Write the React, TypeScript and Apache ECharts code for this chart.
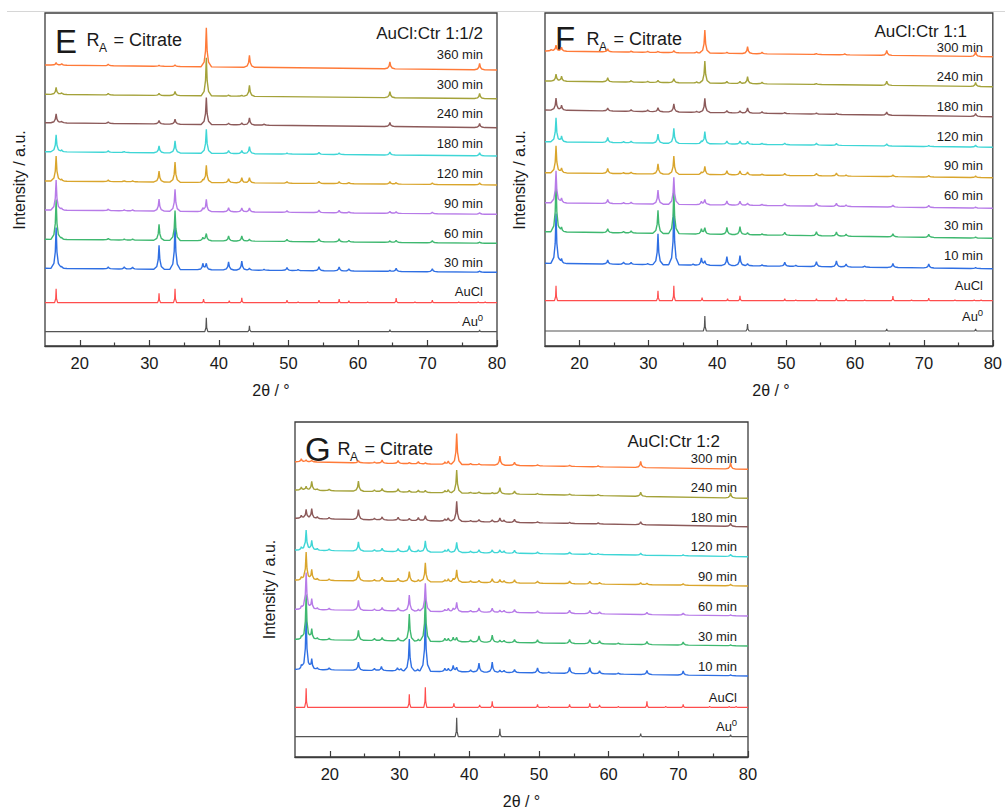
import { useEffect, useRef } from "react";
import * as echarts from "echarts";

// ---------- axis ----------
const X_MIN = 15;
const X_MAX = 80;
const X_TICKS = [20, 30, 40, 50, 60, 70, 80];
const X_MINOR_TICKS = [25, 35, 45, 55, 65, 75];

// ---------- panel E : AuCl:Ctr 1:1/2 ----------
const E_LABELS = ["360 min", "300 min", "240 min", "180 min", "120 min", "90 min", "60 min", "30 min", "AuCl", "Au0"];
const E_BASE_LEFT = [281, 251.7, 223.3, 194.3, 165, 136, 106.7, 77.7, 43.3, 14.3];
const E_BASE_RIGHT = [276, 247.3, 218.3, 190, 161, 131.7, 102.7, 73.7, 43.3, 14.3];
const E_360 = [[16.6, 2.5], [17.4, 1.5], [24.1, 1.5], [31.4, 1], [33.7, 1.5], [38.2, 39], [44.4, 12], [64.6, 7], [77.5, 6.5]];
const E_300 = [[16.6, 7], [17.4, 2], [24.1, 1.5], [31.4, 2], [33.7, 4], [38.2, 38], [41.4, 1], [43.3, 1], [44.4, 11], [64.6, 6], [77.5, 5]];
const E_240 = [[16.6, 9], [17.4, 2], [24.1, 1.5], [31.4, 3.5], [33.7, 5], [38.2, 27], [41.4, 1.5], [43.3, 2], [44.4, 7], [46.5, 1], [64.6, 4], [77.5, 4]];
const E_180 = [[16.6, 17], [17.4, 2], [24.1, 1.5], [26.4, 1], [31.4, 7], [33.7, 12], [38.2, 24], [41.4, 3], [43.3, 3], [44.4, 7], [49.8, 1], [54.4, 2], [57.3, 1.5], [64.6, 3], [77.5, 3]];
const E_120 = [[16.6, 25], [17.4, 2], [24.1, 1.5], [26.4, 1], [27.6, 1], [31.4, 11], [33.7, 20], [37.7, 2], [38.2, 17], [41.4, 4], [43.3, 5], [44.4, 5], [49.8, 1.5], [54.4, 2], [57.3, 2], [58.7, 1], [64.6, 2.5], [65.5, 1.5], [70.7, 1.5], [77.5, 2]];
const E_90 = [[16.6, 30], [17.4, 2], [24.1, 1.5], [26.4, 1], [27.6, 1], [31.4, 12], [33.7, 22], [37.7, 3], [38.2, 12], [41.4, 4], [43.3, 4], [44.4, 4], [49.8, 1.5], [54.4, 2.5], [57.3, 2.5], [58.7, 1], [64.6, 2], [65.5, 1.5], [70.7, 1.5], [77.5, 1.5]];
const E_60 = [[16.6, 40], [17.4, 2], [24.1, 1.5], [26.4, 1], [27.6, 1], [31.4, 16], [33.7, 30], [37.7, 3], [38.2, 7], [41.4, 5], [43.3, 5], [44.4, 2], [49.8, 2], [54.4, 3], [57.3, 3], [58.7, 1.5], [64.6, 1.5], [65.5, 2], [70.7, 2], [77.5, 1]];
const E_30 = [[16.6, 41], [17.4, 2], [24.1, 2], [26.4, 2], [27.6, 2], [31.4, 24], [33.7, 45], [37.7, 6], [38.2, 6], [41.4, 8], [43.3, 9], [44.4, 2], [46.5, 1], [49.8, 3], [51.4, 1], [54.4, 4], [57.3, 4], [58.7, 2], [64.6, 1], [65.5, 3], [70.7, 3], [77.5, 1]];
const E_AUCL = [[16.6, 14], [31.4, 9.5], [33.7, 14], [37.8, 3.5], [41.5, 2], [43.3, 5], [49.8, 2.5], [51.4, 1], [54.4, 2.5], [57.3, 3.5], [58.7, 2], [61.4, 1], [65.5, 4.5], [68.2, 1], [70.7, 2.5], [74.5, 1], [77.3, 1], [78.3, 1]];
const E_AU0 = [[38.2, 14], [44.4, 6], [64.6, 2], [77.5, 1.7]];

// ---------- panel F : AuCl:Ctr 1:1 ----------
const F_LABELS = ["300 min", "240 min", "180 min", "120 min", "90 min", "60 min", "30 min", "10 min", "AuCl", "Au0"];
const F_BASE_LEFT = [295, 265, 236, 204.3, 173.3, 143.3, 114.3, 82.7, 45.3, 15];
const F_BASE_RIGHT = [289.3, 259.3, 229.3, 198.7, 168.3, 137.7, 107.7, 77.3, 45.3, 15];
const F_300 = [[15.9, 2], [16.6, 6], [17.4, 4], [24.1, 3], [27.5, 1], [29.9, 1], [31.4, 1], [33.7, 2], [37.0, 1], [38.2, 23], [41.4, 1], [44.4, 7], [46.5, 1.5], [54.4, 1], [58.5, 1], [64.6, 5], [77.5, 5]];
const F_240 = [[16.6, 7], [17.4, 5], [24.1, 4], [27.5, 1.5], [29.9, 1], [31.4, 2], [33.7, 4], [37.0, 1], [38.2, 22], [41.4, 2], [43.3, 2], [44.4, 7], [46.5, 1.5], [54.4, 1], [64.6, 4], [77.5, 4]];
const F_180 = [[16.6, 12], [17.4, 5], [24.1, 3], [27.5, 1.5], [29.9, 1.5], [31.4, 4], [33.7, 8], [37.0, 1], [38.2, 14], [41.4, 2], [43.3, 2], [44.4, 5], [46.5, 1.5], [49.8, 1], [54.4, 1], [57.3, 1], [64.6, 3], [77.5, 3]];
const F_120 = [[16.6, 24], [17.4, 6], [24.1, 5], [26.4, 1], [27.5, 1.5], [31.4, 9], [33.7, 15], [37.7, 2], [38.2, 12], [41.4, 3], [43.3, 3], [44.4, 3], [46.5, 1], [49.8, 1.5], [54.4, 2], [57.3, 2], [64.6, 2], [70.7, 1], [77.5, 2]];
const F_90 = [[16.6, 27], [17.4, 5], [24.1, 5], [26.4, 1], [27.5, 1.5], [31.4, 10], [33.7, 18], [37.7, 2], [38.2, 8], [41.4, 4], [43.3, 4], [44.4, 3], [46.5, 1], [49.8, 2], [54.4, 2.5], [57.3, 3], [58.7, 1], [65.5, 1.5], [70.7, 1.5], [77.5, 1.5]];
const F_60 = [[16.6, 32], [17.4, 5], [24.1, 4], [26.4, 1], [27.5, 1.5], [31.4, 14], [33.7, 27], [37.7, 3], [38.2, 5], [41.4, 4], [43.3, 4], [44.4, 2], [46.5, 1], [49.8, 2], [54.4, 3], [57.3, 3], [58.7, 1.5], [65.5, 2], [70.7, 2], [77.5, 1]];
const F_30 = [[16.6, 50], [17.4, 5], [24.1, 4], [26.4, 1.5], [27.5, 2], [31.4, 23], [33.7, 43], [37.7, 5], [38.2, 6], [41.4, 7], [43.3, 8], [44.4, 2], [46.5, 1], [49.8, 3], [54.4, 4], [57.3, 4], [58.7, 2], [65.5, 3], [70.7, 3], [77.5, 1]];
const F_10 = [[16.6, 50], [17.4, 5], [24.1, 4], [26.4, 2], [27.5, 2], [29.9, 1], [31.4, 31], [33.7, 58], [36.5, 1], [37.7, 7], [38.2, 4], [41.4, 9], [43.3, 10], [44.4, 2], [46.5, 1], [49.8, 4], [51.4, 1], [54.4, 5], [57.3, 6], [58.7, 3], [61.4, 1], [65.5, 4], [70.7, 4], [77.5, 1]];
const F_AUCL = [[16.6, 15], [31.4, 10], [33.7, 15], [37.8, 3], [41.5, 2], [43.3, 5], [49.8, 2], [51.4, 1], [54.4, 2], [57.3, 3], [58.7, 2], [61.4, 1], [65.5, 4.5], [68.2, 1], [70.7, 2.5], [74.5, 1], [77.3, 1], [78.3, 1]];
const F_AU0 = [[38.2, 15], [44.4, 7], [64.6, 2], [77.5, 2]];

// ---------- panel G : AuCl:Ctr 1:2 ----------
const G_LABELS = ["300 min", "240 min", "180 min", "120 min", "90 min", "60 min", "30 min", "10 min", "AuCl", "Au0"];
const G_BASE_LEFT = [295.3, 267, 238.7, 207, 177, 147.7, 117.7, 87.7, 49.7, 20.3];
const G_BASE_RIGHT = [287.7, 258.7, 230.3, 200.3, 171, 141, 111, 81, 49.7, 20.3];
const G_300 = [[15.9, 3], [16.6, 2], [17.4, 2], [24.1, 2], [26.4, 1], [27.5, 3], [29.8, 3], [31.4, 1], [32.7, 2], [33.7, 1], [36.5, 2], [37.0, 3], [38.2, 31], [40.2, 1], [41.4, 1], [44.4, 9], [46.5, 3], [49.8, 1], [54.4, 1], [58.5, 1], [64.6, 6], [77.5, 6]];
const G_240 = [[15.9, 3], [16.6, 4], [17.4, 9], [18.2, 2], [19.9, 1.5], [24.1, 10], [26.4, 1.5], [27.5, 3], [29.8, 3], [31.4, 1.5], [32.7, 2], [33.7, 2], [36.5, 2], [37.0, 3], [38.2, 23], [40.2, 1], [41.4, 1.5], [43.3, 1], [44.4, 6], [46.5, 3], [49.8, 1], [54.4, 1], [58.5, 1], [64.6, 4], [77.5, 5]];
const G_180 = [[15.9, 3], [16.6, 9], [17.4, 10], [18.2, 2], [19.9, 1.5], [24.1, 10], [26.4, 1.5], [27.5, 3], [29.8, 3], [31.4, 2], [32.7, 3], [33.7, 5], [36.5, 2], [37.0, 3], [38.2, 20], [40.2, 1], [41.4, 2], [43.3, 2], [44.4, 4], [45.0, 2], [46.5, 3], [49.8, 1], [54.4, 1], [58.5, 1], [64.6, 3], [77.5, 3]];
const G_120 = [[15.9, 3], [16.6, 20], [17.4, 10], [18.2, 2], [19.9, 1.5], [24.1, 9], [26.4, 1.5], [27.5, 3], [29.8, 3], [31.4, 6], [32.7, 2], [33.7, 11], [36.5, 2], [37.0, 3], [38.2, 10], [40.2, 1.5], [41.4, 3], [43.3, 3], [44.4, 3], [45.0, 2], [46.5, 3], [49.8, 1.5], [54.4, 2], [57.3, 1.5], [58.5, 1], [64.6, 2], [70.7, 1], [77.5, 2]];
const G_90 = [[15.9, 3], [16.6, 28], [17.4, 11], [18.2, 2], [19.9, 1.5], [24.1, 10], [26.4, 1.5], [27.5, 4], [29.8, 3], [31.4, 10], [32.7, 2], [33.7, 19], [36.5, 2], [37.0, 3], [37.7, 3], [38.2, 12], [40.2, 1.5], [41.4, 2], [43.3, 4], [44.4, 3], [45.0, 2], [46.5, 3], [49.8, 2], [54.4, 2.5], [57.3, 2.5], [58.7, 1.5], [64.6, 2], [65.5, 1.5], [70.7, 1.5], [77.5, 1.5]];
const G_60 = [[15.9, 3], [16.6, 37], [17.4, 11], [18.2, 2], [19.9, 1.5], [24.1, 10], [26.4, 1.5], [27.5, 3], [29.8, 3], [31.4, 16], [32.7, 2], [33.7, 28], [36.5, 2], [37.0, 3], [37.7, 3], [38.2, 9], [40.2, 1.5], [41.4, 4], [43.3, 4], [44.4, 2], [45.0, 2], [46.5, 3], [49.8, 2], [54.4, 3], [57.3, 3], [58.7, 2], [65.5, 2], [70.7, 2], [77.5, 1]];
const G_30 = [[15.9, 3], [16.6, 45], [17.4, 11], [18.2, 2], [19.9, 1.5], [24.1, 10], [26.4, 2], [27.5, 3], [29.8, 3], [31.4, 27], [32.7, 2], [33.7, 45], [36.5, 3], [37.0, 3], [37.7, 4], [38.2, 4], [40.2, 2], [41.4, 6], [43.3, 7], [44.4, 2], [45.0, 2], [46.5, 3], [49.8, 3], [54.4, 4], [57.3, 4], [58.7, 3], [61.4, 1], [65.5, 3], [70.7, 3], [77.5, 1]];
const G_10 = [[15.9, 4], [16.6, 52], [17.4, 11], [18.2, 2], [19.9, 2], [24.1, 8], [26.4, 2], [27.4, 4], [29.7, 3], [30.2, 2], [31.4, 32], [32.6, 2], [33.7, 55], [36.5, 3], [37.0, 3], [37.7, 6], [38.2, 4], [40.2, 2], [41.4, 9], [43.3, 10], [44.4, 2], [45.0, 2], [46.5, 3], [49.8, 5], [51.4, 1], [54.4, 6], [57.3, 6], [58.7, 3], [61.4, 1], [65.5, 4], [70.7, 4], [77.5, 1]];
const G_AUCL = [[16.6, 19], [31.4, 13], [33.7, 20], [37.8, 4], [41.5, 2.5], [43.3, 6], [49.8, 3], [51.4, 1], [54.4, 3], [57.3, 4], [58.7, 2.5], [61.4, 1], [65.5, 6], [68.2, 1], [70.7, 3], [74.5, 1], [77.3, 1], [78.3, 1]];
const G_AU0 = [[38.2, 19], [44.4, 8], [64.6, 3], [77.5, 2]];

// ---------- styles ----------
const TRACE_COLORS = ["#ff7a38", "#a4a23a", "#8c5a5a", "#3fd6d6", "#d9a52c", "#b77be8", "#3fb870", "#2f6fe3", "#ff4d4d", "#555555"];
const SAMPLE_SHAPE = [[-0.75, 0], [-0.32, 0.12], [-0.12, 0.4], [0, 1], [0.12, 0.4], [0.32, 0.12], [0.75, 0]];
const REF_SHAPE = [[-0.22, 0], [-0.06, 0.28], [0, 1], [0.06, 0.28], [0.22, 0]];
const FONT = '"Liberation Sans", Arial, sans-serif';
const TEXT = "#1a1a1a";
const FRAME = "#3c3c3c";

const PANELS = [
  {
    letter: "E", title: "AuCl:Ctr 1:1/2", labels: E_LABELS, left: E_BASE_LEFT, right: E_BASE_RIGHT,
    peaks: [E_360, E_300, E_240, E_180, E_120, E_90, E_60, E_30, E_AUCL, E_AU0],
    grid: { left: 45, top: 13, width: 452, height: 333 },
    labelX: 483, labelY: [54, 84, 113, 143, 173, 203, 233, 262, 291.7, 321.7],
    letterPos: [55, 41], raPos: [86.5, 39.5], titlePos: [483, 33],
    yTitle: [19, 180], xTitle: [271, 390],
  },
  {
    letter: "F", title: "AuCl:Ctr 1:1", labels: F_LABELS, left: F_BASE_LEFT, right: F_BASE_RIGHT,
    peaks: [F_300, F_240, F_180, F_120, F_90, F_60, F_30, F_10, F_AUCL, F_AU0],
    grid: { left: 545, top: 13, width: 452, height: 333 },
    labelX: 983, labelY: [47, 76, 106.7, 136, 165.3, 195, 225, 255, 285, 316],
    letterPos: [555, 38.5], raPos: [586.5, 38.5], titlePos: [967, 31],
    yTitle: [519, 180], xTitle: [771, 390],
  },
  {
    letter: "G", title: "AuCl:Ctr 1:2", labels: G_LABELS, left: G_BASE_LEFT, right: G_BASE_RIGHT,
    peaks: [G_300, G_240, G_180, G_120, G_90, G_60, G_30, G_10, G_AUCL, G_AU0],
    grid: { left: 295, top: 422, width: 453, height: 335 },
    labelX: 737, labelY: [458.5, 487.7, 517.3, 546.7, 576.7, 606.7, 636.7, 666.7, 697.3, 726.7],
    letterPos: [305, 449], raPos: [337.5, 449], titlePos: [720, 441.5],
    yTitle: [269, 589.5], xTitle: [521.5, 801.7],
  },
];

function shapeAt(d: number, shape: number[][]): number {
  const n = shape.length;
  if (d <= shape[0][0] || d >= shape[n - 1][0]) return 0;
  for (let i = 0; i < n - 1; i++) {
    const [x0, y0] = shape[i];
    const [x1, y1] = shape[i + 1];
    if (d >= x0 && d <= x1) return y0 + ((y1 - y0) * (d - x0)) / (x1 - x0);
  }
  return 0;
}

function buildTrace(peaks: number[][], left: number, right: number, shape: number[][]): number[][] {
  const xs = new Set<number>([X_MIN, X_MAX]);
  peaks.forEach(([c]) =>
    shape.forEach(([dx]) => {
      const x = +(c + dx).toFixed(3);
      if (x >= X_MIN && x <= X_MAX) xs.add(x);
    })
  );
  const sorted = Array.from(xs).sort((a, b) => a - b);
  return sorted.map((x) => {
    let y = left + ((right - left) * (x - X_MIN)) / (X_MAX - X_MIN);
    for (const [c, h] of peaks) y += h * shapeAt(x - c, shape);
    return [x, +y.toFixed(2)];
  });
}

function txt(x: number, y: number, text: string, size: number, align: string, extra: any = {}) {
  return {
    type: "text",
    x,
    y,
    silent: true,
    ...extra,
    style: {
      text,
      fontSize: size,
      fontFamily: FONT,
      fill: TEXT,
      textAlign: align,
      align,
      textVerticalAlign: "middle",
      verticalAlign: "middle",
    },
  };
}

export default function App() {
  const ref = useRef<HTMLDivElement>(null);
  useEffect(() => {
    if (!ref.current) return;
    const chart = echarts.init(ref.current, undefined, { renderer: "svg" });
    const grids: any[] = [];
    const xAxes: any[] = [];
    const yAxes: any[] = [];
    const series: any[] = [];
    const graphics: any[] = [
      { type: "line", silent: true, shape: { x1: 7, y1: 11.5, x2: 1005, y2: 11.5 }, style: { stroke: "#d6d6d6", lineWidth: 1 } },
    ];

    PANELS.forEach((p, i) => {
      grids.push({ ...p.grid, show: true, borderColor: FRAME, borderWidth: 1.3, backgroundColor: "transparent" });
      xAxes.push({
        gridIndex: i, type: "value", min: X_MIN, max: X_MAX, interval: 5,
        axisLine: { show: true, onZero: false, lineStyle: { color: FRAME, width: 1.3 } },
        axisTick: { show: true, inside: true, length: 6, customValues: X_TICKS, lineStyle: { color: FRAME, width: 1.2 } },
        axisLabel: { show: true, customValues: X_TICKS, fontSize: 16.5, fontFamily: FONT, color: TEXT, margin: 8 },
        splitLine: { show: false },
      });
      xAxes.push({
        gridIndex: i, type: "value", min: X_MIN, max: X_MAX, interval: 5, position: "bottom",
        axisLine: { show: false },
        axisTick: { show: true, inside: true, length: 3.5, customValues: X_MINOR_TICKS, lineStyle: { color: FRAME, width: 1.2 } },
        axisLabel: { show: false },
        splitLine: { show: false },
      });
      yAxes.push({ gridIndex: i, type: "value", min: 0, max: p.grid.height, show: false, splitLine: { show: false } });

      for (let t = p.peaks.length - 1; t >= 0; t--) {
        const isRef = t >= p.peaks.length - 2;
        series.push({
          type: "line",
          name: `${p.letter} ${p.labels[t]}`,
          xAxisIndex: 2 * i,
          yAxisIndex: i,
          data: buildTrace(p.peaks[t], p.left[t], p.right[t], isRef ? REF_SHAPE : SAMPLE_SHAPE),
          showSymbol: false,
          symbol: "none",
          silent: true,
          lineStyle: { color: TRACE_COLORS[t], width: isRef ? 1.2 : 1.4 },
        });
      }

      // trace labels
      p.labels.forEach((lab, t) => {
        const y = p.labelY[t];
        if (lab === "Au0") {
          graphics.push(txt(p.labelX - 5, y, "Au", 13, "right"));
          graphics.push(txt(p.labelX, y - 4, "0", 9.5, "right"));
        } else {
          graphics.push(txt(p.labelX, y, lab, 13, "right"));
        }
      });
      // panel letter and titles
      graphics.push(txt(p.letterPos[0], p.letterPos[1], p.letter, 33, "left"));
      graphics.push(txt(p.raPos[0], p.raPos[1], "R", 18, "left"));
      graphics.push(txt(p.raPos[0] + 12.5, p.raPos[1] + 8, "A", 12, "left"));
      graphics.push(txt(p.raPos[0] + 27, p.raPos[1], "= Citrate", 18, "left"));
      graphics.push(txt(p.titlePos[0], p.titlePos[1], p.title, 17, "right"));
      graphics.push(txt(p.yTitle[0], p.yTitle[1], "Intensity / a.u.", 16, "center", { rotation: Math.PI / 2 }));
      graphics.push(txt(p.xTitle[0], p.xTitle[1], "2θ / °", 16, "center"));
    });

    chart.setOption({
      animation: false,
      backgroundColor: "#ffffff",
      grid: grids,
      xAxis: xAxes,
      yAxis: yAxes,
      series,
      graphic: { elements: graphics },
    });
    return () => chart.dispose();
  }, []);

  return <div ref={ref} style={{ position: "fixed", left: 0, top: 0, width: 1005, height: 809, background: "#fff" }} />;
}
